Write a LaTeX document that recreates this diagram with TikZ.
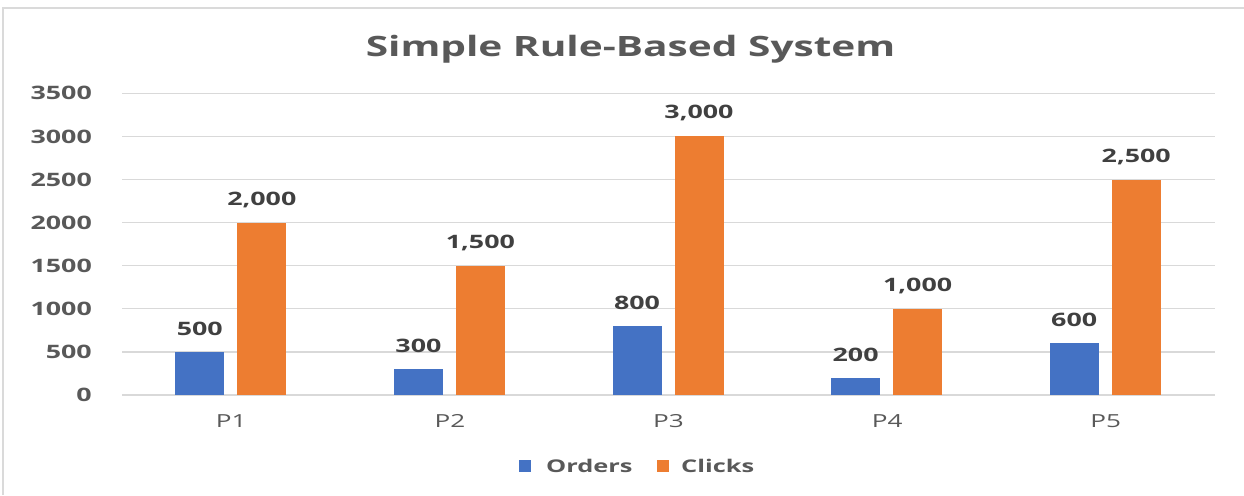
\documentclass[tikz,border=0pt]{standalone}
\usepackage{fontspec}
\setmainfont{Open Sans}
\newfontfamily\chartfont[FakeStretch=1.45]{Open Sans}
\definecolor{cblue}{HTML}{4472C4}
\definecolor{corange}{HTML}{ED7D31}
\definecolor{cgrid}{HTML}{D9D9D9}
\definecolor{caxis}{HTML}{595959}
\definecolor{clabel}{HTML}{404040}
\definecolor{cframe}{HTML}{DADADA}
\tikzset{
  gridline/.style={draw=cgrid, line width=1.3pt},
  ylab/.style={anchor=east, inner sep=0pt, text=caxis, font=\chartfont\bfseries\fontsize{18.5}{18.5}\selectfont},
  xlab/.style={anchor=center, inner sep=0pt, text=caxis, font=\chartfont\fontsize{18}{18}\selectfont},
  vlab/.style={anchor=center, inner sep=0pt, text=clabel, font=\chartfont\bfseries\fontsize{18.5}{18.5}\selectfont},
  legtext/.style={anchor=west, inner sep=0pt, text=caxis, font=\chartfont\bfseries\fontsize{17.5}{17.5}\selectfont},
  ordersbar/.style={fill=cblue, draw=none},
  clicksbar/.style={fill=corange, draw=none},
}
\begin{document}
\begin{tikzpicture}[x=1pt, y=-1pt]
\useasboundingbox (0,0) rectangle (1244,495);
\fill[white] (0,0) rectangle (1244,495);
% frame
\draw[cframe, line width=2pt] (3,495) -- (3,8) -- (1244,8);
% title
\node[inner sep=0pt, text=caxis, font=\chartfont\bfseries\fontsize{28}{28}\selectfont] (title) at (630.5,49) {Simple Rule-Based System};
% grid lines and y labels
\foreach \v [count=\i from 0] in {0,500,1000,1500,2000,2500,3000,3500} {
  \draw[gridline] (122,{395-43.1*\i}) -- (1215,{395-43.1*\i});
  \node[ylab] (y\i) at (92,{395-43.1*\i}) {\v};
}
% bars
\foreach \c/\o/\k/\ol/\kl/\n in {231.3/500/2000/500/{2,000}/P1, 449.9/300/1500/300/{1,500}/P2, 668.5/800/3000/800/{3,000}/P3, 887.1/200/1000/200/{1,000}/P4, 1105.7/600/2500/600/{2,500}/P5} {
  \fill[ordersbar] ({\c-56},395) rectangle ({\c-7},{395-0.0862*\o});
  \fill[clicksbar] ({\c+6},395) rectangle ({\c+55},{395-0.0862*\k});
  \node[vlab] (o\n) at ({\c-31.5},{395-0.0862*\o-23}) {\ol};
  \node[vlab] (k\n) at ({\c+30.5},{395-0.0862*\k-23}) {\kl};
  \node[xlab] (x\n) at (\c,421) {\n};
}
% legend
\fill[cblue] (519,460) rectangle (531,472);
\node[legtext] (lo) at (546,466) {Orders};
\fill[corange] (657,460) rectangle (669,472);
\node[legtext] (lc) at (681,466) {Clicks};
\end{tikzpicture}
\end{document}
